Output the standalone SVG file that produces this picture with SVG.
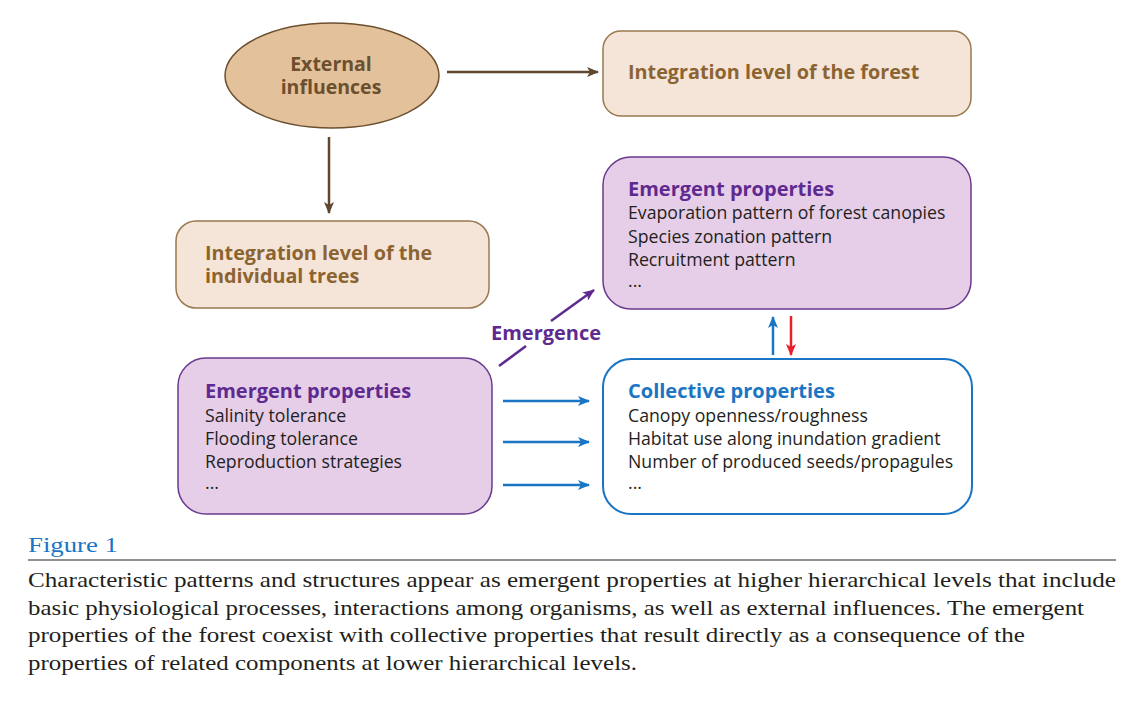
<svg xmlns="http://www.w3.org/2000/svg" width="1142" height="701" viewBox="0 0 1142 701">
<style>
.t{font-family:"Open Sans","Liberation Sans",sans-serif;}
.b{font-weight:bold;}
.brown{fill:#6b4f2f;}
.tan{fill:#8b6431;}
.pur{fill:#5e2a8f;}
.blu{fill:#1a75c4;}
.body{fill:#231f20;font-size:17.7px;}
.cap{font-family:"Liberation Serif","Times New Roman",serif;font-size:21px;fill:#231f20;}
</style>
<defs>
<marker id="ab" markerWidth="12" markerHeight="10" refX="11" refY="5" orient="auto" markerUnits="userSpaceOnUse"><path d="M0,0 L12,5 L0,10 L3,5 Z" fill="#5e4630"/></marker>
<marker id="ap" markerWidth="12" markerHeight="10" refX="11" refY="5" orient="auto" markerUnits="userSpaceOnUse"><path d="M0,0 L12,5 L0,10 L3,5 Z" fill="#5e2a8f"/></marker>
<marker id="abl" markerWidth="12" markerHeight="10" refX="11" refY="5" orient="auto" markerUnits="userSpaceOnUse"><path d="M0,0 L12,5 L0,10 L3,5 Z" fill="#1a75c4"/></marker>
<marker id="ar" markerWidth="12" markerHeight="10" refX="11" refY="5" orient="auto" markerUnits="userSpaceOnUse"><path d="M0,0 L12,5 L0,10 L3,5 Z" fill="#e8202a"/></marker>
</defs>
<rect width="1142" height="701" fill="#ffffff"/>
<g id="connectors" fill="none" stroke-width="2.5">
<line x1="447" y1="72" x2="598" y2="72" stroke="#5e4630" marker-end="url(#ab)"/>
<line x1="329" y1="137" x2="329" y2="213" stroke="#5e4630" marker-end="url(#ab)"/>
<line x1="499" y1="366" x2="526" y2="346" stroke="#5e2a8f"/>
<line x1="551" y1="321" x2="594" y2="290" stroke="#5e2a8f" marker-end="url(#ap)"/>
<line x1="503" y1="401" x2="589" y2="401" stroke="#1a75c4" marker-end="url(#abl)"/>
<line x1="503" y1="442" x2="589" y2="442" stroke="#1a75c4" marker-end="url(#abl)"/>
<line x1="503" y1="485" x2="589" y2="485" stroke="#1a75c4" marker-end="url(#abl)"/>
<line x1="773" y1="355" x2="773" y2="317" stroke="#1a75c4" marker-end="url(#abl)"/>
<line x1="791" y1="316" x2="791" y2="355" stroke="#e8202a" marker-end="url(#ar)"/>
<text x="491" y="340" class="t b pur" font-size="20" stroke="none">Emergence</text>
</g>
<g id="external">
<ellipse cx="332" cy="75.5" rx="107" ry="52.5" fill="#e3c29b" stroke="#6b4f2f" stroke-width="1.5"/>
<text x="331" y="71" text-anchor="middle" class="t b brown" font-size="19.5">External</text>
<text x="331" y="94" text-anchor="middle" class="t b brown" font-size="19.5">influences</text>
</g>
<g id="forest">
<rect x="603" y="31" width="368" height="85" rx="18" fill="#f5e5d8" stroke="#9a7850" stroke-width="1.5"/>
<text x="628" y="79" class="t b tan" font-size="19.8">Integration level of the forest</text>
</g>
<g id="trees">
<rect x="176" y="221" width="313" height="87" rx="20" fill="#f5e5d8" stroke="#9a7850" stroke-width="1.5"/>
<text x="205" y="260" class="t b tan" font-size="19.8">Integration level of the</text>
<text x="205" y="283" class="t b tan" font-size="19.8">individual  trees</text>
</g>
<g id="forest-emergent">
<rect x="603" y="157" width="368" height="152" rx="28" fill="#e6cde8" stroke="#6b3a8e" stroke-width="1.5"/>
<text x="628" y="196" class="t b pur" font-size="20">Emergent properties</text>
<text x="628" y="219" class="t body">Evaporation pattern of forest canopies</text>
<text x="628" y="243" class="t body">Species zonation pattern</text>
<text x="628" y="266" class="t body">Recruitment pattern</text>
<text x="628" y="287" class="t body">...</text>
</g>
<g id="collective">
<rect x="603" y="359" width="369" height="155" rx="28" fill="#ffffff" stroke="#1a75c4" stroke-width="2"/>
<text x="628" y="398" class="t b blu" font-size="20">Collective properties</text>
<text x="628" y="422" class="t body">Canopy openness/roughness</text>
<text x="628" y="445" class="t body">Habitat use along inundation gradient</text>
<text x="628" y="468" class="t body">Number of produced seeds/propagules</text>
<text x="628" y="489" class="t body">...</text>
</g>
<g id="trees-emergent">
<rect x="178" y="358" width="314" height="156" rx="28" fill="#e6cde8" stroke="#6b3a8e" stroke-width="1.5"/>
<text x="205" y="398" class="t b pur" font-size="20">Emergent properties</text>
<text x="205" y="422" class="t body">Salinity tolerance</text>
<text x="205" y="445" class="t body">Flooding tolerance</text>
<text x="205" y="468" class="t body">Reproduction strategies</text>
<text x="205" y="489" class="t body">...</text>
</g>
<g id="caption">
<text x="28" y="552" font-family="Liberation Serif, serif" font-size="22" fill="#1a75c4" textLength="90" lengthAdjust="spacingAndGlyphs">Figure 1</text>
<line x1="28" y1="560" x2="1116" y2="560" stroke="#231f20" stroke-width="1.2"/>
<text x="28" y="587" class="cap" textLength="1088" lengthAdjust="spacingAndGlyphs">Characteristic patterns and structures appear as emergent properties at higher hierarchical levels that include</text>
<text x="28" y="615" class="cap" textLength="1056" lengthAdjust="spacingAndGlyphs">basic physiological processes, interactions among organisms, as well as external influences. The emergent</text>
<text x="28" y="642" class="cap" textLength="997" lengthAdjust="spacingAndGlyphs">properties of the forest coexist with collective properties that result directly as a consequence of the</text>
<text x="28" y="670" class="cap" textLength="609" lengthAdjust="spacingAndGlyphs">properties of related components at lower hierarchical levels.</text>
</g>
</svg>
